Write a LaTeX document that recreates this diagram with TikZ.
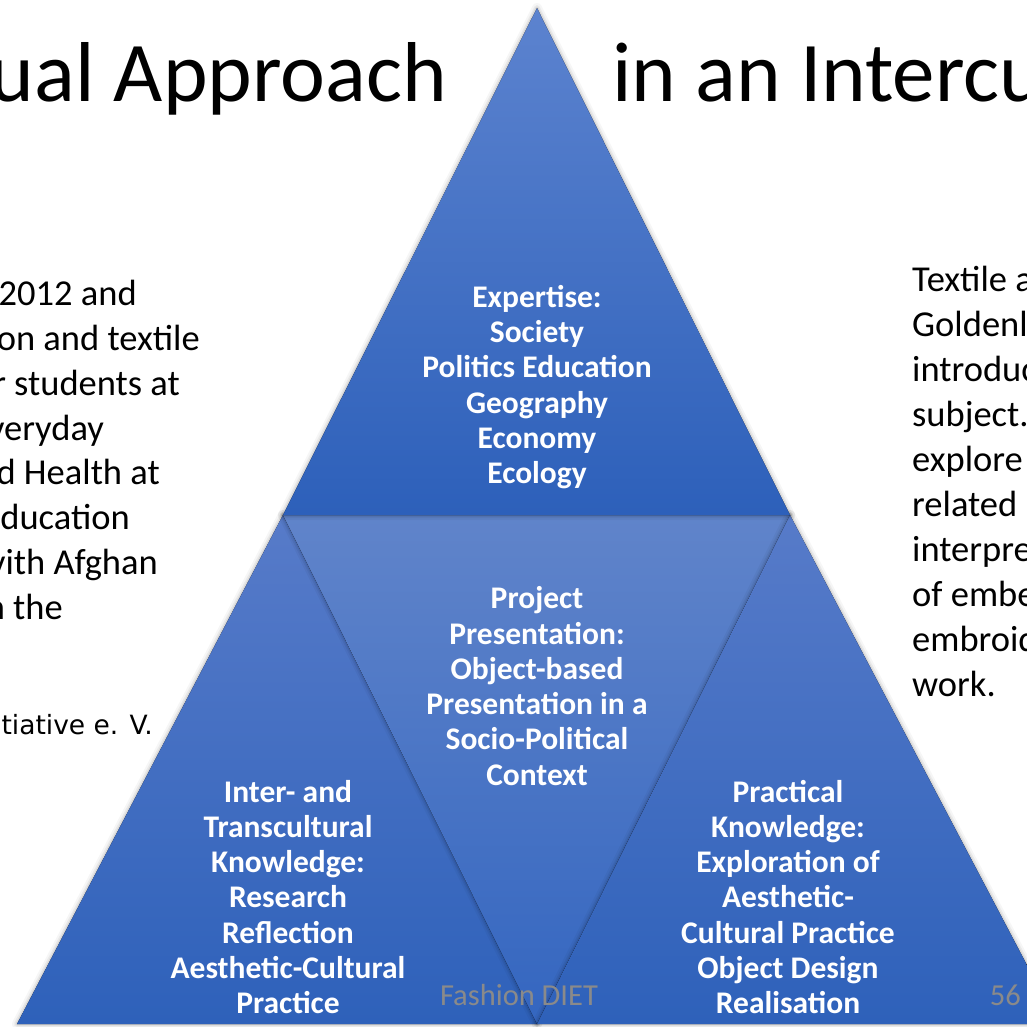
\documentclass[tikz,border=0pt]{standalone}
\usepackage{fontspec}
\setmainfont{Carlito}
\newfontfamily\versans{DejaVu Sans}
\definecolor{topA}{HTML}{5C83CF}
\definecolor{topB}{HTML}{2D60BA}
\definecolor{midA}{HTML}{6084CA}
\definecolor{midB}{HTML}{3466C0}
\definecolor{lowA}{HTML}{577BC9}
\definecolor{lowB}{HTML}{2E61BA}
\definecolor{footgray}{HTML}{8A8A8A}
% soft outline drawn under each triangle
\newcommand\softedge[3]{%
  \foreach \w/\o in {10/0.035,6/0.05,3/0.07}{%
    \draw[line width=\w pt, black, opacity=\o, line join=round] #1 -- #2 -- #3 -- cycle;}}
\begin{document}
\begin{tikzpicture}[x=1pt,y=-1pt,
  label/.style={text=white, font=\bfseries\fontsize{31.5}{35.3}\selectfont, align=center, inner sep=0pt},
  body/.style={font=\fontsize{36.5}{45}\selectfont, inner sep=0pt},
  title/.style={font=\fontsize{85}{100}\selectfont, inner sep=0pt},
  foot/.style={text=footgray, font=\fontsize{30.5}{34}\selectfont, inner sep=0pt},
  uptri/.style={top color=lowA, bottom color=lowB},
]
\useasboundingbox (0,0) rectangle (1027,1026);
\clip (0,0) rectangle (1027,1026);
\fill[white] (0,0) rectangle (1027,1026);

% corner points of the pyramid
\coordinate (A)  at (537,8);
\coordinate (TL) at (283,515);
\coordinate (TR) at (790,515);
\coordinate (BM) at (537,1024);
\coordinate (BL) at (17,1024);
\coordinate (BR) at (1058,1024);

% slide title
\node[title, anchor=base east] (t1) at (447,101) {ual Approach};
\node[title, anchor=base west] (t2) at (612,101) {in an Intercu};

% left column text
\node[body, anchor=base east] (l1) at (137,305) {2012 and};
\node[body, anchor=base east] (l2) at (200,350) {on and textile};
\node[body, anchor=base east] (l3) at (180,395) {r students at};
\node[body, anchor=base east] (l4) at (104,440) {veryday};
\node[body, anchor=base east] (l5) at (160,484) {d Health at};
\node[body, anchor=base east] (l6) at (130,529) {ducation};
\node[body, anchor=base east] (l7) at (158,574) {vith Afghan};
\node[body, anchor=base east] (l8) at (63,619) {n the};
\node[inner sep=0pt, font=\versans\fontsize{26.5}{30}\selectfont, anchor=base east] (l9) at (153,734) {tiative e. V.};

% right column text
\node[body, anchor=base west] (r1)  at (912,291) {Textile a};
\node[body, anchor=base west] (r2)  at (912,336) {Goldenl};
\node[body, anchor=base west] (r3)  at (912,381) {introduc};
\node[body, anchor=base west] (r4)  at (912,426) {subject.};
\node[body, anchor=base west] (r5)  at (912,471) {explore};
\node[body, anchor=base west] (r6)  at (912,516) {related};
\node[body, anchor=base west] (r7)  at (912,561) {interpre};
\node[body, anchor=base west] (r8)  at (912,606) {of embe};
\node[body, anchor=base west] (r9)  at (912,651) {embroid};
\node[body, anchor=base west] (r10) at (912,696) {work.};

% lower left triangle
\softedge{(TL)}{(BL)}{(BM)}
\fill[uptri] (TL) -- (BL) -- (BM) -- cycle;
% centre (inverted) triangle
\softedge{(TL)}{(TR)}{(BM)}
\fill[top color=midA, bottom color=midB] (TL) -- (TR) -- (BM) -- cycle;
% lower right triangle
\softedge{(TR)}{(BM)}{(BR)}
\fill[uptri] (TR) -- (BM) -- (BR) -- cycle;
% top triangle
\softedge{(A)}{(TL)}{(TR)}
\fill[top color=topA, bottom color=topB] (A) -- (TL) -- (TR) -- cycle;

% labels
\node[label] (top) at (537,387) {Expertise:\\Society\\Politics Education\\Geography\\Economy\\Ecology};
\node[label] (mid) at (537,686) {Project\\Presentation:\\Object-based\\Presentation in a\\Socio-Political\\Context};
\node[label] (left) at (288,897) {Inter- and\\Transcultural\\Knowledge:\\Research\\Reflection\\Aesthetic-Cultural\\Practice};
\node[label] (right) at (788,897) {Practical\\Knowledge:\\Exploration of\\Aesthetic-\\Cultural Practice\\Object Design\\Realisation};

% footer
\node[foot, anchor=base] (f1) at (519,1005) {Fashion DIET};
\node[foot, anchor=base east] (f2) at (1021,1005) {56};
\end{tikzpicture}
\end{document}
